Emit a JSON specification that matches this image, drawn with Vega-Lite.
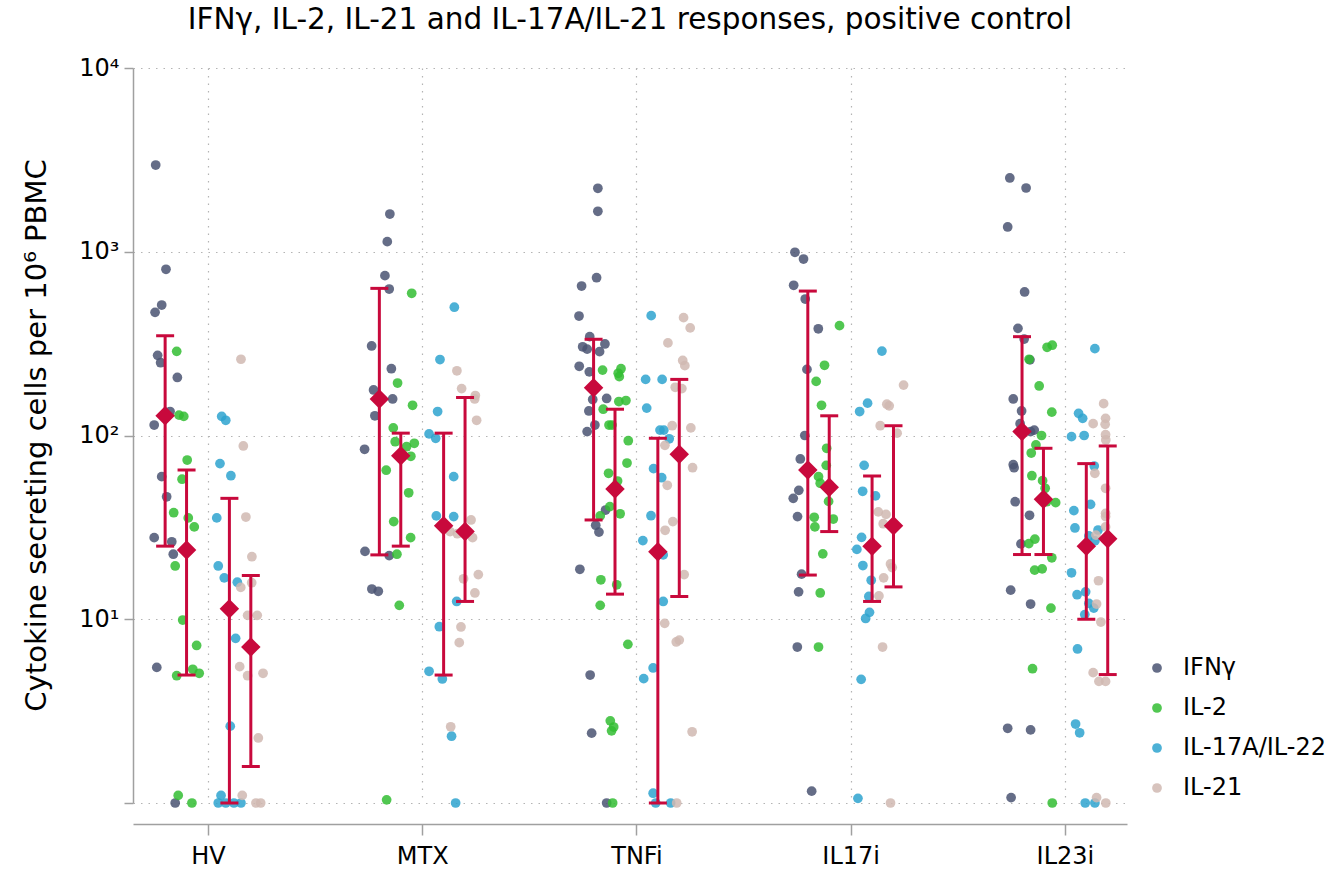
{
  "$schema": "https://vega.github.io/schema/vega-lite/v6.json",
  "autosize": {"type": "none"},
  "padding": {"left": 133, "top": 68, "right": 204, "bottom": 71},
  "width": 994,
  "height": 735,
  "config": {"font": "DejaVu Sans", "view": {"stroke": null}},
  "title": {"text": "IFNγ, IL-2, IL-21 and IL-17A/IL-21 responses, positive control", "fontSize": 29.5, "fontWeight": "normal", "color": "#000", "anchor": "middle", "frame": "group", "baseline": "alphabetic", "offset": -2},
  "datasets": {
    "points": [
      {"c":"IFNγ","x":0.756,"v":2965},{"c":"IFNγ","x":0.804,"v":803},{"c":"IFNγ","x":0.784,"v":513},{"c":"IFNγ","x":0.753,"v":468},{"c":"IFNγ","x":0.765,"v":273},{"c":"IFNγ","x":0.779,"v":249},{"c":"IFNγ","x":0.857,"v":207},{"c":"IFNγ","x":0.823,"v":135},{"c":"IFNγ","x":0.749,"v":114},{"c":"IFNγ","x":0.784,"v":59.7},{"c":"IFNγ","x":0.807,"v":46.4},{"c":"IFNγ","x":0.749,"v":27.8},{"c":"IFNγ","x":0.831,"v":26.4},{"c":"IFNγ","x":0.838,"v":22.6},{"c":"IFNγ","x":0.761,"v":5.47},{"c":"IFNγ","x":0.847,"v":1},
      {"c":"IL-2","x":0.854,"v":287},{"c":"IL-2","x":0.865,"v":129},{"c":"IL-2","x":0.887,"v":127},{"c":"IL-2","x":0.903,"v":73.5},{"c":"IL-2","x":0.879,"v":57.8},{"c":"IL-2","x":0.84,"v":38},{"c":"IL-2","x":0.908,"v":35.6},{"c":"IL-2","x":0.936,"v":31.8},{"c":"IL-2","x":0.847,"v":19.5},{"c":"IL-2","x":0.882,"v":9.9},{"c":"IL-2","x":0.947,"v":7.2},{"c":"IL-2","x":0.854,"v":4.93},{"c":"IL-2","x":0.929,"v":5.34},{"c":"IL-2","x":0.959,"v":5.08},{"c":"IL-2","x":0.861,"v":1.1},{"c":"IL-2","x":0.925,"v":1},
      {"c":"IL-17A/IL-22","x":1.064,"v":127},{"c":"IL-17A/IL-22","x":1.083,"v":121},{"c":"IL-17A/IL-22","x":1.056,"v":70.3},{"c":"IL-17A/IL-22","x":1.107,"v":60.4},{"c":"IL-17A/IL-22","x":1.041,"v":35.6},{"c":"IL-17A/IL-22","x":1.048,"v":19.5},{"c":"IL-17A/IL-22","x":1.076,"v":16.8},{"c":"IL-17A/IL-22","x":1.137,"v":15.9},{"c":"IL-17A/IL-22","x":1.129,"v":7.87},{"c":"IL-17A/IL-22","x":1.104,"v":2.62},{"c":"IL-17A/IL-22","x":1.061,"v":1.1},{"c":"IL-17A/IL-22","x":1.048,"v":1},{"c":"IL-17A/IL-22","x":1.083,"v":1},{"c":"IL-17A/IL-22","x":1.121,"v":1},{"c":"IL-17A/IL-22","x":1.154,"v":1},
      {"c":"IL-21","x":1.154,"v":260},{"c":"IL-21","x":1.165,"v":87.7},{"c":"IL-21","x":1.177,"v":36},{"c":"IL-21","x":1.205,"v":21.9},{"c":"IL-21","x":1.204,"v":15.8},{"c":"IL-21","x":1.153,"v":14.9},{"c":"IL-21","x":1.185,"v":10.5},{"c":"IL-21","x":1.23,"v":10.5},{"c":"IL-21","x":1.148,"v":5.52},{"c":"IL-21","x":1.185,"v":4.93},{"c":"IL-21","x":1.257,"v":5.08},{"c":"IL-21","x":1.235,"v":2.26},{"c":"IL-21","x":1.16,"v":1.1},{"c":"IL-21","x":1.224,"v":1},{"c":"IL-21","x":1.246,"v":1},

      {"c":"IFNγ","x":1.849,"v":1604},{"c":"IFNγ","x":1.837,"v":1135},{"c":"IFNγ","x":1.826,"v":741},{"c":"IFNγ","x":1.846,"v":627},{"c":"IFNγ","x":1.764,"v":307},{"c":"IFNγ","x":1.856,"v":231},{"c":"IFNγ","x":1.773,"v":177},{"c":"IFNγ","x":1.862,"v":158},{"c":"IFNγ","x":1.779,"v":128},{"c":"IFNγ","x":1.731,"v":84.1},{"c":"IFNγ","x":1.733,"v":23.4},{"c":"IFNγ","x":1.846,"v":22.2},{"c":"IFNγ","x":1.765,"v":14.6},{"c":"IFNγ","x":1.795,"v":14.2},
      {"c":"IL-2","x":1.951,"v":594},{"c":"IL-2","x":1.885,"v":193},{"c":"IL-2","x":1.955,"v":146},{"c":"IL-2","x":1.865,"v":110},{"c":"IL-2","x":1.874,"v":92.5},{"c":"IL-2","x":1.927,"v":86.9},{"c":"IL-2","x":1.963,"v":90.7},{"c":"IL-2","x":1.947,"v":77.1},{"c":"IL-2","x":1.832,"v":64.7},{"c":"IL-2","x":1.937,"v":48.8},{"c":"IL-2","x":1.867,"v":34},{"c":"IL-2","x":1.946,"v":27.8},{"c":"IL-2","x":1.882,"v":22.6},{"c":"IL-2","x":1.893,"v":11.9},{"c":"IL-2","x":1.834,"v":1.04},
      {"c":"IL-17A/IL-22","x":2.15,"v":499},{"c":"IL-17A/IL-22","x":2.083,"v":259},{"c":"IL-17A/IL-22","x":2.072,"v":135},{"c":"IL-17A/IL-22","x":2.032,"v":102},{"c":"IL-17A/IL-22","x":2.063,"v":96.6},{"c":"IL-17A/IL-22","x":2.147,"v":59.7},{"c":"IL-17A/IL-22","x":2.066,"v":36.5},{"c":"IL-17A/IL-22","x":2.147,"v":36.2},{"c":"IL-17A/IL-22","x":2.161,"v":12.5},{"c":"IL-17A/IL-22","x":2.08,"v":9.11},{"c":"IL-17A/IL-22","x":2.032,"v":5.21},{"c":"IL-17A/IL-22","x":2.094,"v":4.73},{"c":"IL-17A/IL-22","x":2.137,"v":2.31},{"c":"IL-17A/IL-22","x":2.156,"v":1},
      {"c":"IL-21","x":2.162,"v":225},{"c":"IL-21","x":2.184,"v":180},{"c":"IL-21","x":2.248,"v":165},{"c":"IL-21","x":2.245,"v":158},{"c":"IL-21","x":2.254,"v":121},{"c":"IL-21","x":2.228,"v":34.7},{"c":"IL-21","x":2.164,"v":29.2},{"c":"IL-21","x":2.235,"v":27.8},{"c":"IL-21","x":2.13,"v":30},{"c":"IL-21","x":2.193,"v":16.6},{"c":"IL-21","x":2.262,"v":17.5},{"c":"IL-21","x":2.246,"v":13.9},{"c":"IL-21","x":2.181,"v":9.08},{"c":"IL-21","x":2.173,"v":7.46},{"c":"IL-21","x":2.133,"v":2.6},

      {"c":"IFNγ","x":2.82,"v":2215},{"c":"IFNγ","x":2.82,"v":1660},{"c":"IFNγ","x":2.814,"v":722},{"c":"IFNγ","x":2.744,"v":651},{"c":"IFNγ","x":2.732,"v":447},{"c":"IFNγ","x":2.782,"v":345},{"c":"IFNγ","x":2.749,"v":304},{"c":"IFNγ","x":2.77,"v":295},{"c":"IFNγ","x":2.853,"v":315},{"c":"IFNγ","x":2.828,"v":286},{"c":"IFNγ","x":2.733,"v":238},{"c":"IFNγ","x":2.78,"v":222},{"c":"IFNγ","x":2.796,"v":157},{"c":"IFNγ","x":2.861,"v":159},{"c":"IFNγ","x":2.778,"v":136},{"c":"IFNγ","x":2.806,"v":114},{"c":"IFNγ","x":2.77,"v":105},{"c":"IFNγ","x":2.856,"v":39.3},{"c":"IFNγ","x":2.81,"v":32.5},{"c":"IFNγ","x":2.825,"v":29.8},{"c":"IFNγ","x":2.736,"v":18.7},{"c":"IFNγ","x":2.784,"v":4.97},{"c":"IFNγ","x":2.791,"v":2.4},{"c":"IFNγ","x":2.861,"v":1},
      {"c":"IL-2","x":2.842,"v":227},{"c":"IL-2","x":2.928,"v":231},{"c":"IL-2","x":2.915,"v":218},{"c":"IL-2","x":2.92,"v":209},{"c":"IL-2","x":2.918,"v":153},{"c":"IL-2","x":2.951,"v":155},{"c":"IL-2","x":2.845,"v":139},{"c":"IL-2","x":2.872,"v":114},{"c":"IL-2","x":2.886,"v":114},{"c":"IL-2","x":2.962,"v":93.7},{"c":"IL-2","x":2.956,"v":70.8},{"c":"IL-2","x":2.87,"v":62.3},{"c":"IL-2","x":2.912,"v":56.5},{"c":"IL-2","x":2.876,"v":41},{"c":"IL-2","x":2.831,"v":36.5},{"c":"IL-2","x":2.924,"v":37.5},{"c":"IL-2","x":2.834,"v":16.4},{"c":"IL-2","x":2.908,"v":15.4},{"c":"IL-2","x":2.831,"v":11.9},{"c":"IL-2","x":2.96,"v":7.3},{"c":"IL-2","x":2.878,"v":2.8},{"c":"IL-2","x":2.894,"v":2.59},{"c":"IL-2","x":2.884,"v":2.47},{"c":"IL-2","x":2.889,"v":1},
      {"c":"IL-17A/IL-22","x":3.069,"v":449},{"c":"IL-17A/IL-22","x":3.043,"v":202},{"c":"IL-17A/IL-22","x":3.12,"v":202},{"c":"IL-17A/IL-22","x":3.048,"v":141},{"c":"IL-17A/IL-22","x":3.11,"v":107},{"c":"IL-17A/IL-22","x":3.128,"v":107},{"c":"IL-17A/IL-22","x":3.153,"v":96},{"c":"IL-17A/IL-22","x":3.08,"v":66},{"c":"IL-17A/IL-22","x":3.118,"v":58.9},{"c":"IL-17A/IL-22","x":3.068,"v":36.6},{"c":"IL-17A/IL-22","x":3.03,"v":26.8},{"c":"IL-17A/IL-22","x":3.125,"v":22.4},{"c":"IL-17A/IL-22","x":3.125,"v":12.5},{"c":"IL-17A/IL-22","x":3.078,"v":5.43},{"c":"IL-17A/IL-22","x":3.034,"v":4.75},{"c":"IL-17A/IL-22","x":3.078,"v":1.13},{"c":"IL-17A/IL-22","x":3.09,"v":1},{"c":"IL-17A/IL-22","x":3.16,"v":1},
      {"c":"IL-21","x":3.22,"v":438},{"c":"IL-21","x":3.251,"v":385},{"c":"IL-21","x":3.147,"v":319},{"c":"IL-21","x":3.216,"v":256},{"c":"IL-21","x":3.226,"v":240},{"c":"IL-21","x":3.181,"v":183},{"c":"IL-21","x":3.212,"v":180},{"c":"IL-21","x":3.167,"v":113},{"c":"IL-21","x":3.254,"v":110},{"c":"IL-21","x":3.133,"v":88.4},{"c":"IL-21","x":3.262,"v":66.8},{"c":"IL-21","x":3.144,"v":53.6},{"c":"IL-21","x":3.17,"v":34},{"c":"IL-21","x":3.134,"v":30.5},{"c":"IL-21","x":3.223,"v":17.5},{"c":"IL-21","x":3.132,"v":9.5},{"c":"IL-21","x":3.186,"v":7.52},{"c":"IL-21","x":3.2,"v":7.7},{"c":"IL-21","x":3.26,"v":2.44},{"c":"IL-21","x":3.188,"v":1},

      {"c":"IFNγ","x":3.74,"v":993},{"c":"IFNγ","x":3.78,"v":913},{"c":"IFNγ","x":3.734,"v":657},{"c":"IFNγ","x":3.788,"v":553},{"c":"IFNγ","x":3.849,"v":381},{"c":"IFNγ","x":3.796,"v":229},{"c":"IFNγ","x":3.786,"v":100},{"c":"IFNγ","x":3.765,"v":74.5},{"c":"IFNγ","x":3.758,"v":50.3},{"c":"IFNγ","x":3.732,"v":45.5},{"c":"IFNγ","x":3.752,"v":36.2},{"c":"IFNγ","x":3.771,"v":17.6},{"c":"IFNγ","x":3.757,"v":14.1},{"c":"IFNγ","x":3.751,"v":7.06},{"c":"IFNγ","x":3.818,"v":1.16},
      {"c":"IL-2","x":3.948,"v":396},{"c":"IL-2","x":3.878,"v":241},{"c":"IL-2","x":3.839,"v":197},{"c":"IL-2","x":3.864,"v":146},{"c":"IL-2","x":3.888,"v":85.2},{"c":"IL-2","x":3.886,"v":68.8},{"c":"IL-2","x":3.85,"v":59.7},{"c":"IL-2","x":3.858,"v":55},{"c":"IL-2","x":3.897,"v":43.8},{"c":"IL-2","x":3.83,"v":35.9},{"c":"IL-2","x":3.919,"v":35.1},{"c":"IL-2","x":3.833,"v":31.8},{"c":"IL-2","x":3.87,"v":22.7},{"c":"IL-2","x":3.858,"v":13.9},{"c":"IL-2","x":3.85,"v":7.06},
      {"c":"IL-17A/IL-22","x":4.146,"v":288},{"c":"IL-17A/IL-22","x":4.079,"v":150},{"c":"IL-17A/IL-22","x":4.042,"v":135},{"c":"IL-17A/IL-22","x":4.063,"v":68.8},{"c":"IL-17A/IL-22","x":4.056,"v":49.7},{"c":"IL-17A/IL-22","x":4.116,"v":46.9},{"c":"IL-17A/IL-22","x":4.051,"v":27.9},{"c":"IL-17A/IL-22","x":4.029,"v":24},{"c":"IL-17A/IL-22","x":4.057,"v":19.6},{"c":"IL-17A/IL-22","x":4.096,"v":16.3},{"c":"IL-17A/IL-22","x":4.085,"v":13.3},{"c":"IL-17A/IL-22","x":4.088,"v":10.9},{"c":"IL-17A/IL-22","x":4.07,"v":10.1},{"c":"IL-17A/IL-22","x":4.049,"v":4.71},{"c":"IL-17A/IL-22","x":4.034,"v":1.06},
      {"c":"IL-21","x":4.247,"v":188},{"c":"IL-21","x":4.169,"v":148},{"c":"IL-21","x":4.18,"v":145},{"c":"IL-21","x":4.138,"v":113},{"c":"IL-21","x":4.217,"v":103},{"c":"IL-21","x":4.129,"v":38.4},{"c":"IL-21","x":4.165,"v":37.2},{"c":"IL-21","x":4.152,"v":33.1},{"c":"IL-21","x":4.186,"v":20},{"c":"IL-21","x":4.194,"v":19.1},{"c":"IL-21","x":4.154,"v":16.8},{"c":"IL-21","x":4.132,"v":13.4},{"c":"IL-21","x":4.149,"v":7.06},{"c":"IL-21","x":4.186,"v":1},

      {"c":"IFNγ","x":4.743,"v":2520},{"c":"IFNγ","x":4.819,"v":2223},{"c":"IFNγ","x":4.733,"v":1364},{"c":"IFNγ","x":4.812,"v":604},{"c":"IFNγ","x":4.781,"v":383},{"c":"IFNγ","x":4.81,"v":335},{"c":"IFNγ","x":4.837,"v":258},{"c":"IFNγ","x":4.759,"v":158},{"c":"IFNγ","x":4.798,"v":136},{"c":"IFNγ","x":4.791,"v":116},{"c":"IFNγ","x":4.84,"v":105},{"c":"IFNγ","x":4.857,"v":107},{"c":"IFNγ","x":4.759,"v":69.4},{"c":"IFNγ","x":4.763,"v":66.8},{"c":"IFNγ","x":4.768,"v":43.6},{"c":"IFNγ","x":4.835,"v":36.8},{"c":"IFNγ","x":4.795,"v":25.7},{"c":"IFNγ","x":4.747,"v":14.4},{"c":"IFNγ","x":4.84,"v":12.1},{"c":"IFNγ","x":4.733,"v":2.55},{"c":"IFNγ","x":4.84,"v":2.5},{"c":"IFNγ","x":4.749,"v":1.07},
      {"c":"IL-2","x":4.917,"v":302},{"c":"IL-2","x":4.941,"v":310},{"c":"IL-2","x":4.833,"v":260},{"c":"IL-2","x":4.88,"v":186},{"c":"IL-2","x":4.939,"v":134},{"c":"IL-2","x":4.891,"v":100},{"c":"IL-2","x":4.865,"v":88.8},{"c":"IL-2","x":4.843,"v":80.3},{"c":"IL-2","x":4.846,"v":60.4},{"c":"IL-2","x":4.896,"v":56.8},{"c":"IL-2","x":4.908,"v":51.6},{"c":"IL-2","x":4.915,"v":43.6},{"c":"IL-2","x":4.957,"v":43.1},{"c":"IL-2","x":4.86,"v":27.3},{"c":"IL-2","x":4.832,"v":25.8},{"c":"IL-2","x":4.939,"v":21.6},{"c":"IL-2","x":4.859,"v":18.5},{"c":"IL-2","x":4.894,"v":18.8},{"c":"IL-2","x":4.935,"v":11.5},{"c":"IL-2","x":4.849,"v":5.38},{"c":"IL-2","x":4.941,"v":1},
      {"c":"IL-17A/IL-22","x":5.14,"v":297},{"c":"IL-17A/IL-22","x":5.064,"v":132},{"c":"IL-17A/IL-22","x":5.083,"v":124},{"c":"IL-17A/IL-22","x":5.031,"v":98.6},{"c":"IL-17A/IL-22","x":5.09,"v":100},{"c":"IL-17A/IL-22","x":5.137,"v":68.2},{"c":"IL-17A/IL-22","x":5.12,"v":42.2},{"c":"IL-17A/IL-22","x":5.042,"v":39},{"c":"IL-17A/IL-22","x":5.047,"v":31.4},{"c":"IL-17A/IL-22","x":5.155,"v":30.6},{"c":"IL-17A/IL-22","x":5.112,"v":28.4},{"c":"IL-17A/IL-22","x":5.14,"v":26.7},{"c":"IL-17A/IL-22","x":5.031,"v":17.9},{"c":"IL-17A/IL-22","x":5.097,"v":14.1},{"c":"IL-17A/IL-22","x":5.057,"v":13.6},{"c":"IL-17A/IL-22","x":5.112,"v":12.2},{"c":"IL-17A/IL-22","x":5.135,"v":11.5},{"c":"IL-17A/IL-22","x":5.093,"v":10.6},{"c":"IL-17A/IL-22","x":5.059,"v":6.89},{"c":"IL-17A/IL-22","x":5.05,"v":2.69},{"c":"IL-17A/IL-22","x":5.069,"v":2.41},{"c":"IL-17A/IL-22","x":5.095,"v":1},{"c":"IL-17A/IL-22","x":5.14,"v":1},
      {"c":"IL-21","x":5.181,"v":149},{"c":"IL-21","x":5.19,"v":124},{"c":"IL-21","x":5.132,"v":116},{"c":"IL-21","x":5.188,"v":115},{"c":"IL-21","x":5.19,"v":101},{"c":"IL-21","x":5.191,"v":94.6},{"c":"IL-21","x":5.14,"v":62.3},{"c":"IL-21","x":5.19,"v":51.6},{"c":"IL-21","x":5.19,"v":37.7},{"c":"IL-21","x":5.19,"v":36.2},{"c":"IL-21","x":5.19,"v":31.8},{"c":"IL-21","x":5.145,"v":28.7},{"c":"IL-21","x":5.157,"v":16.2},{"c":"IL-21","x":5.148,"v":12.1},{"c":"IL-21","x":5.168,"v":9.66},{"c":"IL-21","x":5.132,"v":5.12},{"c":"IL-21","x":5.159,"v":4.59},{"c":"IL-21","x":5.19,"v":4.59},{"c":"IL-21","x":5.148,"v":1.07},{"c":"IL-21","x":5.191,"v":1}
    ],
    "summary": [
      {"g":"HV","c":"IFNγ","x":0.8,"lo":25,"mid":128,"hi":349},
      {"g":"HV","c":"IL-2","x":0.9,"lo":4.97,"mid":23.8,"hi":64.9},
      {"g":"HV","c":"IL-17A/IL-22","x":1.1,"lo":1,"mid":11.4,"hi":45.5},
      {"g":"HV","c":"IL-21","x":1.2,"lo":1.58,"mid":7.06,"hi":17.3},
      {"g":"MTX","c":"IFNγ","x":1.8,"lo":22.4,"mid":158,"hi":632},
      {"g":"MTX","c":"IL-2","x":1.9,"lo":25,"mid":77.7,"hi":103},
      {"g":"MTX","c":"IL-17A/IL-22","x":2.1,"lo":4.97,"mid":32.3,"hi":103},
      {"g":"MTX","c":"IL-21","x":2.2,"lo":12.5,"mid":30,"hi":161},
      {"g":"TNFi","c":"IFNγ","x":2.8,"lo":34.7,"mid":182,"hi":334},
      {"g":"TNFi","c":"IL-2","x":2.9,"lo":13.7,"mid":51.2,"hi":139},
      {"g":"TNFi","c":"IL-17A/IL-22","x":3.1,"lo":1,"mid":23.3,"hi":96.6},
      {"g":"TNFi","c":"IL-21","x":3.2,"lo":13.3,"mid":79,"hi":202},
      {"g":"IL17i","c":"IFNγ","x":3.8,"lo":17.4,"mid":64.9,"hi":611},
      {"g":"IL17i","c":"IL-2","x":3.9,"lo":30,"mid":52.3,"hi":128},
      {"g":"IL17i","c":"IL-17A/IL-22","x":4.1,"lo":12.5,"mid":25,"hi":60.2},
      {"g":"IL17i","c":"IL-21","x":4.2,"lo":15,"mid":32.3,"hi":113},
      {"g":"IL23i","c":"IFNγ","x":4.8,"lo":22.5,"mid":105,"hi":345},
      {"g":"IL23i","c":"IL-2","x":4.9,"lo":22.5,"mid":45,"hi":85.2},
      {"g":"IL23i","c":"IL-17A/IL-22","x":5.1,"lo":10,"mid":25,"hi":70.3},
      {"g":"IL23i","c":"IL-21","x":5.2,"lo":5,"mid":27.4,"hi":87.7}
    ]
  },
  "encoding": {
    "x": {
      "field": "x", "type": "quantitative",
      "scale": {"domain": [0.65, 5.29], "nice": false, "zero": false},
      "axis": {
        "title": null, "values": [1, 2, 3, 4, 5],
        "labelExpr": "['', 'HV', 'MTX', 'TNFi', 'IL17i', 'IL23i'][datum.value]",
        "offset": 21, "domainColor": "#a0a0a0", "domainWidth": 1.5,
        "tickColor": "#a0a0a0", "tickWidth": 1.5, "tickSize": 11,
        "labelFontSize": 24, "labelColor": "#000", "labelPadding": 9,
        "grid": true, "gridColor": "#b4b4b4", "gridDash": [1.5, 6], "gridWidth": 1.2
      }
    },
    "y": {
      "type": "quantitative",
      "scale": {"type": "log", "domain": [1, 10000], "nice": false},
      "axis": {
        "values": [1, 10, 100, 1000, 10000],
        "labelExpr": "datum.value == 10 ? '10¹' : datum.value == 100 ? '10²' : datum.value == 1000 ? '10³' : datum.value == 10000 ? '10⁴' : ''",
        "domainColor": "#a0a0a0", "domainWidth": 1.5,
        "tickColor": "#a0a0a0", "tickWidth": 1.5, "tickSize": 9,
        "labelFontSize": 24, "labelColor": "#000", "labelPadding": 5,
        "grid": true, "gridColor": "#b4b4b4", "gridDash": [1.5, 6], "gridWidth": 1.2,
        "title": "Cytokine secreting cells per 10⁶ PBMC",
        "titleFontSize": 29, "titleFontWeight": "normal", "titleColor": "#000",
        "titleX": -97, "titleY": 367, "titleAngle": -90, "titleAlign": "center", "titleBaseline": "middle"
      }
    }
  },
  "layer": [
    {
      "data": {"name": "points"},
      "mark": {"type": "circle", "size": 95, "opacity": 0.85},
      "encoding": {
        "y": {"field": "v"},
        "color": {
          "field": "c", "type": "nominal",
          "scale": {"domain": ["IFNγ", "IL-2", "IL-17A/IL-22", "IL-21"], "range": ["#4a5472", "#33bd33", "#2ea3cf", "#d0b9b1"]},
          "legend": {
            "title": null, "orient": "none", "legendX": 1012, "legendY": 588,
            "labelFontSize": 24, "labelColor": "#000", "symbolSize": 95, "symbolType": "circle",
            "symbolOpacity": 0.85, "symbolStrokeWidth": 0, "rowPadding": 16, "labelOffset": 14
          }
        }
      }
    },
    {
      "data": {"name": "summary"},
      "mark": {"type": "rule", "color": "#c8093c", "strokeWidth": 3},
      "encoding": {"y": {"field": "lo"}, "y2": {"field": "hi"}}
    },
    {
      "data": {"name": "summary"},
      "mark": {"type": "tick", "orient": "horizontal", "color": "#c8093c", "size": 18, "thickness": 3, "opacity": 1},
      "encoding": {"y": {"field": "lo"}}
    },
    {
      "data": {"name": "summary"},
      "mark": {"type": "tick", "orient": "horizontal", "color": "#c8093c", "size": 18, "thickness": 3, "opacity": 1},
      "encoding": {"y": {"field": "hi"}}
    },
    {
      "data": {"name": "summary"},
      "mark": {"type": "point", "shape": "diamond", "filled": true, "color": "#c8093c", "size": 380, "opacity": 1},
      "encoding": {"y": {"field": "mid"}}
    }
  ]
}
